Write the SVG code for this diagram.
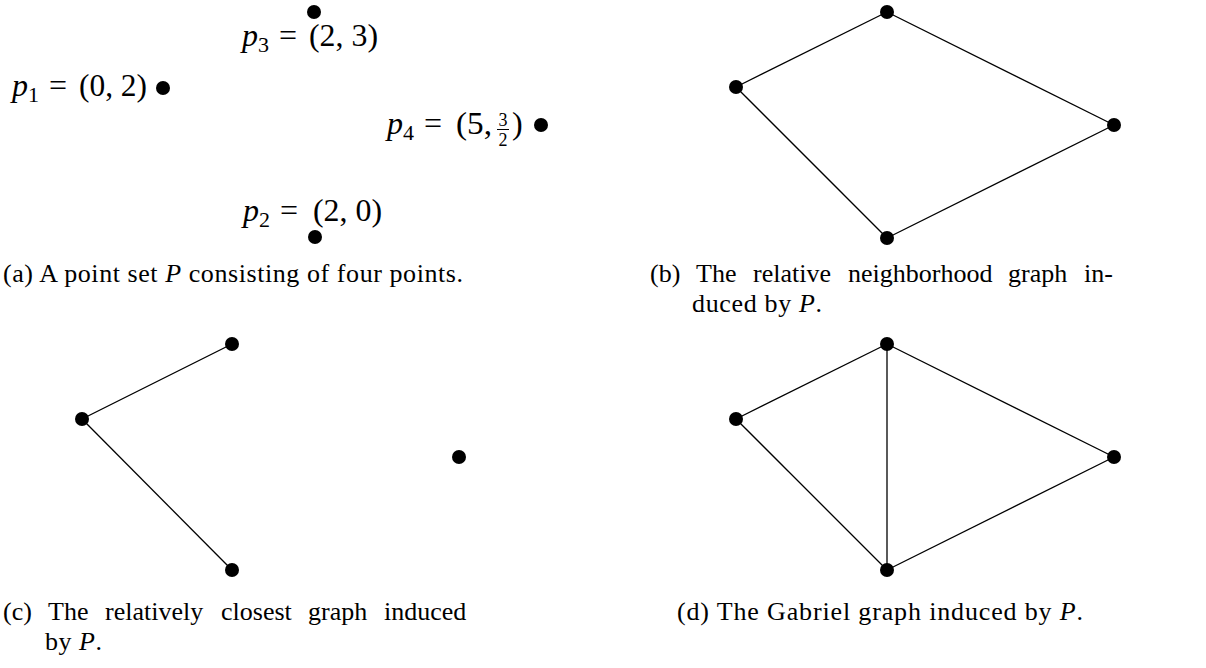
<svg xmlns="http://www.w3.org/2000/svg" width="1206" height="668" viewBox="0 0 1206 668">
<style>
.t{font-family:"Liberation Serif","Times New Roman",serif;font-size:26px;fill:#000}
.L{font-size:32px}
.i{font-style:italic}
.s{font-size:22px}
.f{font-size:18px}
.m{text-anchor:middle}
.e{stroke:#000;stroke-width:1.3;fill:none}
.d{fill:#000}
</style>
<rect width="1206" height="668" fill="#fff"/>
<g id="connectors">
<line class="e" x1="736" y1="87" x2="887" y2="12"/>
<line class="e" x1="887" y1="12" x2="1114" y2="125"/>
<line class="e" x1="1114" y1="125" x2="887" y2="238"/>
<line class="e" x1="887" y1="238" x2="736" y2="87"/>
<line class="e" x1="82" y1="419" x2="232" y2="344"/>
<line class="e" x1="82" y1="419" x2="232" y2="570"/>
<line class="e" x1="736" y1="419" x2="887" y2="344"/>
<line class="e" x1="887" y1="344" x2="1114" y2="457"/>
<line class="e" x1="1114" y1="457" x2="887" y2="570"/>
<line class="e" x1="887" y1="570" x2="736" y2="419"/>
<line class="e" x1="887" y1="344" x2="887" y2="570"/>
</g>
<g id="a-p1">
<circle class="d" cx="163" cy="88" r="7"/>
<text class="t L i" x="12" y="96">p</text><text class="t s" x="28" y="102">1</text>
<text class="t L m" x="58" y="96">=</text>
<text class="t L" x="79" y="96" textLength="68" lengthAdjust="spacingAndGlyphs">(0, 2)</text>
</g>
<g id="a-p3">
<circle class="d" cx="314" cy="12" r="7"/>
<text class="t L i" x="242" y="46">p</text><text class="t s" x="258" y="52">3</text>
<text class="t L m" x="288" y="46">=</text>
<text class="t L" x="309" y="46" textLength="69" lengthAdjust="spacingAndGlyphs">(2, 3)</text>
</g>
<g id="a-p4">
<circle class="d" cx="541" cy="125" r="7"/>
<text class="t L i" x="387" y="134">p</text><text class="t s" x="403" y="140">4</text>
<text class="t L m" x="433" y="134">=</text>
<text class="t L" x="456" y="134" textLength="36" lengthAdjust="spacingAndGlyphs">(5,</text>
<text class="t f m" x="503" y="125.5">3</text>
<line x1="497" y1="129.5" x2="509" y2="129.5" stroke="#000" stroke-width="1"/>
<text class="t f m" x="503" y="146">2</text>
<text class="t L" x="512" y="134">)</text>
</g>
<g id="a-p2">
<circle class="d" cx="315" cy="237" r="7"/>
<text class="t L i" x="243" y="221">p</text><text class="t s" x="259" y="227">2</text>
<text class="t L m" x="289" y="221">=</text>
<text class="t L" x="313" y="221" textLength="69" lengthAdjust="spacingAndGlyphs">(2, 0)</text>
</g>
<g id="b-p1"><circle class="d" cx="736" cy="87" r="7"/></g>
<g id="b-p3"><circle class="d" cx="887" cy="12" r="7"/></g>
<g id="b-p4"><circle class="d" cx="1114" cy="125" r="7"/></g>
<g id="b-p2"><circle class="d" cx="887" cy="238" r="7"/></g>
<g id="c-p1"><circle class="d" cx="82" cy="419" r="7"/></g>
<g id="c-p3"><circle class="d" cx="232" cy="344" r="7"/></g>
<g id="c-p4"><circle class="d" cx="459" cy="457" r="7"/></g>
<g id="c-p2"><circle class="d" cx="232" cy="570" r="7"/></g>
<g id="d-p1"><circle class="d" cx="736" cy="419" r="7"/></g>
<g id="d-p3"><circle class="d" cx="887" cy="344" r="7"/></g>
<g id="d-p4"><circle class="d" cx="1114" cy="457" r="7"/></g>
<g id="d-p2"><circle class="d" cx="887" cy="570" r="7"/></g>
<g id="captions">
<text class="t" x="3" y="282" textLength="460" lengthAdjust="spacing">(a) A point set <tspan class="i">P</tspan> consisting of four points.</text>
<text class="t" y="282"><tspan x="650">(b)</tspan><tspan x="696">The</tspan><tspan x="753">relative</tspan><tspan x="848">neighborhood</tspan><tspan x="1008">graph</tspan><tspan x="1084">in-</tspan></text>
<text class="t" x="692" y="312" textLength="130" lengthAdjust="spacing">duced by <tspan class="i">P</tspan>.</text>
<text class="t" y="620"><tspan x="3">(c)</tspan><tspan x="48">The</tspan><tspan x="105">relatively</tspan><tspan x="221">closest</tspan><tspan x="308">graph</tspan><tspan x="384">induced</tspan></text>
<text class="t" x="45" y="650" textLength="57" lengthAdjust="spacing">by <tspan class="i">P</tspan>.</text>
<text class="t" x="677" y="620" textLength="406" lengthAdjust="spacing">(d) The Gabriel graph induced by <tspan class="i">P</tspan>.</text>
</g>
</svg>
